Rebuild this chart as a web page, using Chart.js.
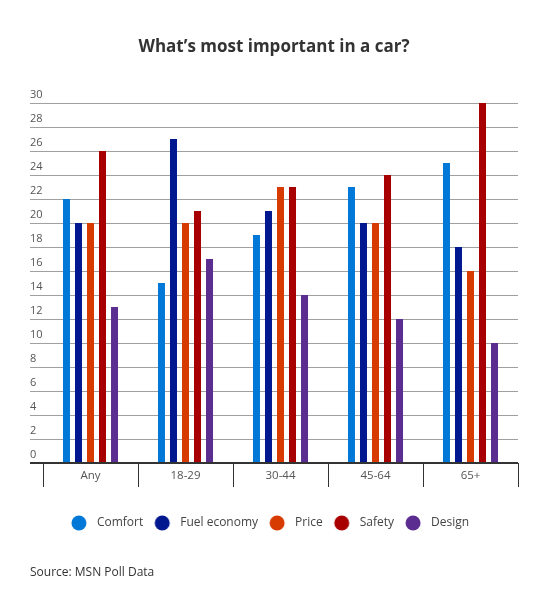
<!DOCTYPE html>
<html>
<head>
<meta charset="utf-8">
<script src="https://cdn.jsdelivr.net/npm/chart.js@4.4.1/dist/chart.umd.min.js"></script>
<style>
  html, body { margin: 0; padding: 0; background: #fff; }
  #wrap { width: 550px; height: 611px; }
</style>
</head>
<body>
<div id="wrap"><canvas id="chart" width="550" height="611"></canvas></div>
<script>
// --- data ---
const categories = ['Any', '18-29', '30-44', '45-64', '65+'];
const seriesNames = ['Comfort', 'Fuel economy', 'Price', 'Safety', 'Design'];
const comfort     = [22, 15, 19, 23, 25];
const fuelEconomy = [20, 27, 21, 20, 18];
const price       = [20, 20, 23, 20, 16];
const safety      = [26, 21, 23, 24, 30];
const design      = [13, 17, 14, 12, 10];
const yMin = 0, yMax = 30, yStep = 2;

const colors = ['#0078d7', '#00188f', '#d83b01', '#a80000', '#5c2d91'];
const FONT = "'Segoe UI', 'Open Sans', sans-serif";

Chart.defaults.animation = false;
Chart.defaults.font.family = FONT;
Chart.defaults.color = '#444';

// round legend dots, shifted left inside the image so the gap to the text matches
function makeDot(color) {
    const c = document.createElement('canvas');
    c.width = 30; c.height = 16;
    const g = c.getContext('2d');
    g.fillStyle = color;
    g.beginPath();
    g.arc(9, 8, 7.5, 0, Math.PI * 2);
    g.fill();
    return c;
}
const dots = colors.map(makeDot);

const values = [comfort, fuelEconomy, price, safety, design];
const datasets = seriesNames.map((name, i) => ({
    label: name,
    data: values[i],
    backgroundColor: colors[i],
    borderWidth: 0,
    categoryPercentage: 0.632,
    barPercentage: 0.583
}));

new Chart(document.getElementById('chart'), {
    type: 'bar',
    data: { labels: categories, datasets },
    options: {
        responsive: false,
        devicePixelRatio: 1,
        layout: { padding: { left: 30, right: 32, top: 0, bottom: 0 } },
        scales: {
            x: {
                grid: {
                    offset: true,
                    drawOnChartArea: false,
                    tickLength: 24,
                    color: '#333',
                    lineWidth: 1
                },
                border: { display: false },
                ticks: {
                    padding: -18,
                    font: { size: 11.5 },
                    color: '#555'
                },
                // labels sit between the separator ticks; keep room below for the legend
                afterFit: (scale) => { scale.height = 35; }
            },
            y: {
                min: yMin,
                max: yMax,
                grid: {
                    tickLength: 13,
                    color: (ctx) => ctx.tick && ctx.tick.value === 0 ? '#333' : '#a0a0a0',
                    lineWidth: (ctx) => ctx.tick && ctx.tick.value === 0 ? 2 : 1
                },
                border: { display: false },
                ticks: {
                    stepSize: yStep,
                    mirror: true,
                    padding: -13,
                    labelOffset: -8,
                    font: { size: 11 },
                    color: '#555'
                },
                afterFit: (scale) => { scale.width = 13; }
            }
        },
        plugins: {
            tooltip: { enabled: false },
            title: {
                display: true,
                text: 'What’s most important in a car?',
                color: '#333',
                font: { size: 17, weight: 'bold' },
                padding: { top: 37, bottom: 45.6 }
            },
            legend: {
                position: 'bottom',
                labels: {
                    usePointStyle: true,
                    boxWidth: 12,
                    boxHeight: 12,
                    padding: 19,
                    color: '#444',
                    font: { size: 12 },
                    generateLabels(chart) {
                        const items = Chart.defaults.plugins.legend.labels.generateLabels(chart);
                        items.forEach((it, i) => { it.pointStyle = dots[i]; });
                        return items;
                    }
                }
            },
            subtitle: {
                display: true,
                position: 'bottom',
                align: 'start',
                text: 'Source: MSN Poll Data',
                color: '#333',
                font: { size: 12 },
                padding: { top: 26.8, bottom: 30.8 }
            }
        }
    }
});
</script>
</body>
</html>
